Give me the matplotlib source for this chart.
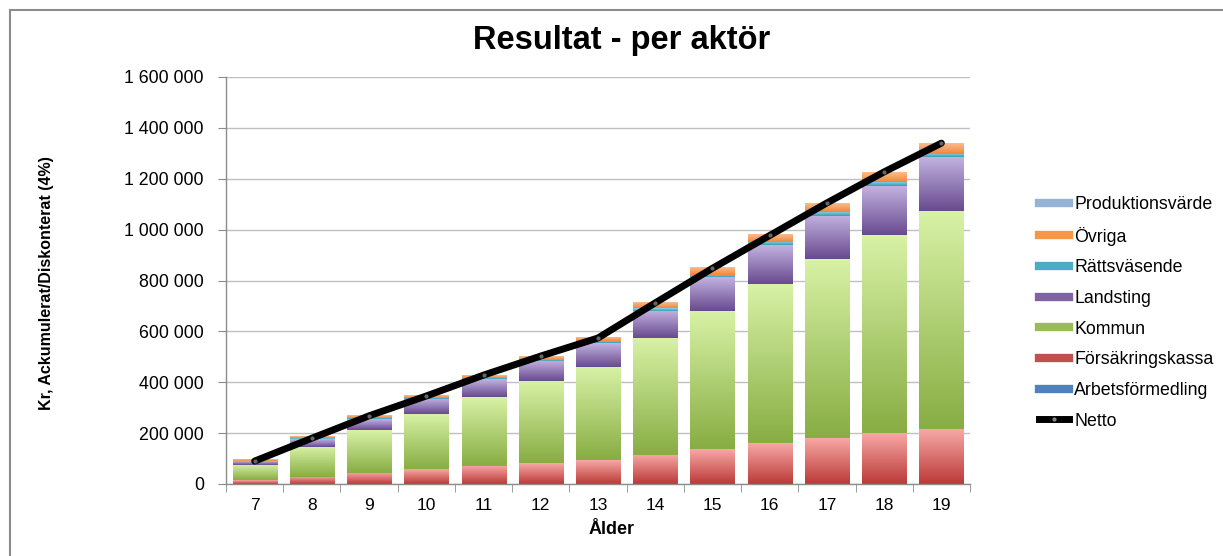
import numpy as np
import matplotlib
matplotlib.use("Agg")
import matplotlib.pyplot as plt
from matplotlib.colors import LinearSegmentedColormap
from matplotlib.lines import Line2D
from matplotlib.ticker import FuncFormatter, MultipleLocator, FixedLocator

plt.rcParams['font.family'] = ['Liberation Sans', 'DejaVu Sans']

# ---- data (kr) ----
ages = ["7", "8", "9", "10", "11", "12", "13", "14", "15", "16", "17", "18", "19"]
arbetsformedling = [0, 0, 0, 0, 0, 0, 0, 0, 0, 0, 0, 0, 0]
forsakringskassa = [15000, 29000, 44000, 58000, 71000, 81000, 94000, 115000, 137000, 160000, 179000, 199000, 216000]
kommun = [60000, 118000, 168000, 219000, 271000, 323000, 366000, 460000, 545000, 627000, 706000, 780000, 856000]
landsting = [15000, 30000, 43000, 59000, 70000, 80000, 94000, 107000, 131000, 153000, 170000, 192000, 212000]
rattsvasende = [2000, 3000, 4000, 4000, 4000, 4000, 8000, 11000, 9000, 13000, 16000, 17000, 15000]
ovriga = [5000, 5000, 8000, 8000, 11000, 15000, 13000, 21000, 28000, 28000, 32000, 36000, 40000]
produktionsvarde = [0, 0, 0, 0, 0, 0, 0, 0, 0, 0, 0, 0, 0]
netto = [90000, 180000, 268000, 346000, 428000, 503000, 574000, 712000, 848000, 977000, 1105000, 1227000, 1340000]

series = [
    ("Arbetsförmedling", arbetsformedling, "#4f81bd", "#8aaede", "#3a659c"),
    ("Försäkringskassa", forsakringskassa, "#c0504d", "#f7a8a6", "#bb3a37"),
    ("Kommun", kommun, "#9bbb59", "#d8f2a6", "#88ad43"),
    ("Landsting", landsting, "#8064a2", "#c2b2e0", "#684a8f"),
    ("Rättsväsende", rattsvasende, "#4bacc6", "#92d6ea", "#3a9ab4"),
    ("Övriga", ovriga, "#f79646", "#fbbc8c", "#f0873a"),
    ("Produktionsvärde", produktionsvarde, "#95b3d7", "#bcd0ea", "#7f9fc8"),
]

fig = plt.figure(figsize=(12.23, 5.56), dpi=100)
ax = fig.add_axes([226 / 1223, 72 / 556, (970 - 226) / 1223, (484 - 77) / 556])

x = np.arange(len(ages))
width = 0.77
bottom = np.zeros(len(ages))
for name, vals, col, ctop, cbot in series:
    vals = np.array(vals, dtype=float)
    bars = ax.bar(x, vals, width, bottom=bottom, color=col, linewidth=0, zorder=2)
    cmap = LinearSegmentedColormap.from_list(name, [cbot, ctop])
    grad = np.linspace(0, 1, 128).reshape(-1, 1)
    for rect in bars:
        h = rect.get_height()
        if h <= 0:
            continue
        x0, y0, w = rect.get_x(), rect.get_y(), rect.get_width()
        ax.imshow(grad, extent=[x0, x0 + w, y0, y0 + h], origin='lower',
                  aspect='auto', cmap=cmap, zorder=2.1, interpolation='bilinear')
    bottom += vals

ax.plot(x, netto, color='black', lw=5, zorder=5, marker='o', markersize=2,
        markerfacecolor='#666666', markeredgecolor='#666666', solid_capstyle='round')

ax.set_xlim(-0.5, len(ages) - 0.5)
ax.set_ylim(0, 1600000)
ax.yaxis.set_major_locator(MultipleLocator(200000))
ax.yaxis.set_major_formatter(FuncFormatter(lambda v, p: f"{int(v):,}".replace(",", " ")))
ax.set_xticks(x)
ax.set_xticklabels(ages)
ax.xaxis.set_minor_locator(FixedLocator(np.arange(-0.5, len(ages), 1.0)))
ax.tick_params(axis='x', which='major', length=0, labelsize=12.5, pad=10)
ax.tick_params(axis='x', which='minor', length=6, color='#8c8c8c', direction='out')
ax.tick_params(axis='y', which='major', length=6, color='#8c8c8c', labelsize=12.8, pad=10)

ax.grid(axis='y', color='#c0c0c0', lw=1, zorder=0)
ax.set_axisbelow(True)
for s in ['top', 'right']:
    ax.spines[s].set_visible(False)
for s in ['left', 'bottom']:
    ax.spines[s].set_color('#8c8c8c')
    ax.spines[s].set_linewidth(1)

fig.text(47 / 1223, 1 - 283 / 556, "Kr, Ackumulerat/Diskonterat (4%)", rotation=90,
         fontsize=11.5, fontweight='bold', ha='center', va='center')
fig.text(612 / 1223, 1 - 529 / 556, "Ålder", fontsize=13, fontweight='bold', ha='center', va='center')
fig.text(622 / 1223, 1 - 40 / 556, "Resultat - per aktör", fontsize=23.5, fontweight='bold',
         ha='center', va='center')

# legend
handles = []
labels = []
for name, vals, col, ctop, cbot in reversed(series):
    handles.append(Line2D([0], [0], color=col, lw=6))
    labels.append(name)
handles.append(Line2D([0], [0], color='black', lw=5, marker='o', markersize=2,
                      markerfacecolor='#888888', markeredgecolor='#888888'))
labels.append("Netto")
fig.legend(handles, labels, loc='upper left', bbox_to_anchor=(1030 / 1223, 1 - 187 / 556),
           frameon=False, fontsize=12.8, handlelength=1.7, handletextpad=0.3,
           labelspacing=0.77, borderpad=0)

# outer border (top and left)
fig.add_artist(Line2D([10 / 1223, 10 / 1223], [0, 1 - 10 / 556], color='#8c8c8c', lw=1.5,
                      transform=fig.transFigure))
fig.add_artist(Line2D([10 / 1223, 1], [1 - 10 / 556, 1 - 10 / 556], color='#8c8c8c', lw=1.5,
                      transform=fig.transFigure))

fig.savefig("out.png", dpi=100)
